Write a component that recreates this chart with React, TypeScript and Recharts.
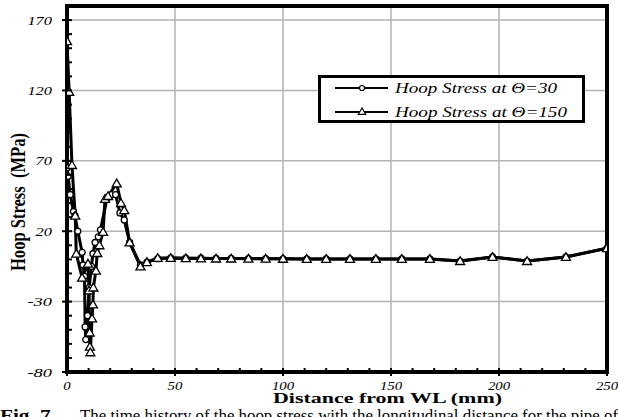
import React from 'react';
import { LineChart, Line, XAxis, YAxis, CartesianGrid, Legend, ReferenceArea } from 'recharts';

// ---- data ----
const distance30 = [0, 0.5, 1.5, 3, 3.7, 5, 7, 7.4, 8.1, 8.4, 8.7, 9.5, 10.3, 11.3, 12, 13, 14.5, 15.5, 18.5, 20.5, 22.5, 24.5, 26.5, 29, 34, 37, 42, 48, 55, 62, 69, 76, 84, 92, 100, 111, 120, 131, 143, 155, 168, 182, 197, 213, 231, 250];
const stress30 = [65, 59, 46, 34, 31, 20, 5, -4, -12, -48, -57, -40, -20, -5, 4, 12, 16, 21, 43, 46, 46, 33, 28, 12, -4, -2, 0.5, 1, 0.8, 0.8, 0.7, 0.7, 0.6, 0.5, 0.4, 0.3, 0.3, 0.3, 0.3, 0.3, 0.3, -1.2, 1.7, -1.2, 1.7, 8];

const distance150 = [0, 1, 2.3, 3.8, 4.3, 7, 9.7, 10.2, 10.5, 10.6, 10.8, 11.6, 12, 12.2, 13.4, 14, 15, 16.7, 17.6, 19, 23, 25, 26.5, 29, 34, 37, 42, 48, 55, 62, 69, 76, 84, 92, 100, 111, 120, 131, 143, 155, 168, 182, 197, 213, 231, 250];
const stress150 = [155, 119, 67, 31, 4, -13, -3, -22, -52, -62, -66, -42, -32, -20, -8, 4.5, 10, 19.5, 43, 45, 54, 40, 35, 12, -5, -2, 1, 1, 0.8, 0.7, 0.6, 0.6, 0.5, 0.5, 0.4, 0.3, 0.3, 0.3, 0.3, 0.3, 0.3, -1.2, 1.7, -1.2, 1.7, 8];

const seriesNames = ['Hoop Stress at \u0398=30', 'Hoop Stress at \u0398=150'];

const xMajorTicks = [0, 50, 100, 150, 200, 250];
const xMinorTicks = [0, 10, 20, 30, 40, 50, 60, 70, 80, 90, 100, 110, 120, 130, 140, 150, 160, 170, 180, 190, 200, 210, 220, 230, 240, 250];
const yMajorTicks = [-80, -30, 20, 70, 120, 170];
const yMinorTicks = [-80, -70, -60, -50, -40, -30, -20, -10, 0, 10, 20, 30, 40, 50, 60, 70, 80, 90, 100, 110, 120, 130, 140, 150, 160, 170];
const xGrid = [50, 100, 150, 200];
const yGrid = [-30, 20, 70, 120, 170];

const data30 = distance30.map((d, i) => ({ d, s: stress30[i] }));
const data150 = distance150.map((d, i) => ({ d, s: stress150[i] }));

const FONT = 'Liberation Serif, Times New Roman, serif';

const XTick = (props: any) => {
  const { x, y, payload } = props;
  const v = payload.value;
  const major = xMajorTicks.includes(v);
  const label = String(v);
  return (
    <g>
      <line x1={x} x2={x} y1={y - 4} y2={y + (major ? 4 : 0)} stroke="#000" strokeWidth={2} />
      {major && (
        <text x={x} y={y + 18} textAnchor="middle" fontFamily={FONT} fontStyle="italic" fontSize={11.5}
          textLength={label.length * 7.4} lengthAdjust="spacingAndGlyphs" fill="#000">{label}</text>
      )}
    </g>
  );
};

const YTick = (props: any) => {
  const { x, y, payload } = props;
  const v = payload.value;
  const major = yMajorTicks.includes(v);
  const label = String(v);
  return (
    <g>
      <line x1={x - (major ? 5 : 0)} x2={x + 5} y1={y} y2={y} stroke="#000" strokeWidth={2} />
      {major && (
        <text x={x - 15} y={y + 4.5} textAnchor="end" fontFamily={FONT} fontStyle="italic" fontSize={13}
          textLength={label.length * 8.2} lengthAdjust="spacingAndGlyphs" fill="#000">{label}</text>
      )}
    </g>
  );
};

const triPoints = (cx: number, cy: number, s: number) =>
  `${cx},${cy - s} ${cx - s * 1.05},${cy + s * 0.8} ${cx + s * 1.05},${cy + s * 0.8}`;

const CircleDot = (props: any) => {
  const { cx, cy } = props;
  if (cx == null || cy == null) return <g />;
  return <circle cx={cx} cy={cy} r={3} fill="#fff" stroke="#000" strokeWidth={1.3} />;
};

const TriDot = (props: any) => {
  const { cx, cy } = props;
  if (cx == null || cy == null) return <g />;
  return <polygon points={triPoints(cx, cy, 4.3)} fill="#fff" stroke="#000" strokeWidth={1.3} />;
};

const LegendBox = (props: any) => {
  const payload = [...(props.payload || [])].sort(
    (a: any, b: any) => seriesNames.indexOf(a.value) - seriesNames.indexOf(b.value)
  );
  const widths = [162, 172];
  return (
    <svg width={267} height={48} style={{ display: 'block' }}>
      <rect x={1.5} y={1.5} width={264} height={45} fill="#fff" stroke="#000" strokeWidth={3} />
      {payload.map((p: any, i: number) => {
        const cy = 13 + i * 24;
        const tri = p.type === 'triangle';
        return (
          <g key={i}>
            <line x1={17} x2={70} y1={cy} y2={cy} stroke="#000" strokeWidth={2} />
            {tri ? (
              <polygon points={triPoints(44, cy - 0.5, 3.5)} fill="#fff" stroke="#000" strokeWidth={1.2} />
            ) : (
              <circle cx={44} cy={cy} r={2.5} fill="#fff" stroke="#000" strokeWidth={1.2} />
            )}
            <text x={77} y={cy + 5} fontFamily={FONT} fontStyle="italic" fontSize={15}
              textLength={widths[i] || 165} lengthAdjust="spacingAndGlyphs" fill="#000">{p.value}</text>
          </g>
        );
      })}
    </svg>
  );
};

export default function App() {
  return (
    <div style={{ position: 'absolute', left: 0, top: 0, width: 618, height: 417, overflow: 'hidden', background: '#fff' }}>
      <LineChart width={618} height={417} margin={{ top: 6, right: 11, bottom: 0, left: 0 }}>
        <CartesianGrid horizontalValues={yGrid} verticalValues={xGrid} stroke="#b3b3b3" strokeWidth={1.5} />
        <XAxis dataKey="d" type="number" domain={[0, 250]} ticks={xMinorTicks} interval={0} tick={<XTick />}
          tickLine={false} axisLine={false} tickSize={0} tickMargin={0} height={45} allowDataOverflow />
        <YAxis type="number" domain={[-80, 180]} ticks={yMinorTicks} interval={0} tick={<YTick />}
          tickLine={false} axisLine={false} tickSize={0} tickMargin={0} width={67} allowDataOverflow />
        <ReferenceArea x1={0} x2={250} y1={-80} y2={180} fill="none" fillOpacity={0} stroke="#000" strokeWidth={4} ifOverflow="visible" />
        <Legend layout="vertical" align="center" verticalAlign="middle" content={<LegendBox />}
          wrapperStyle={{ left: 318, top: 75, width: 267, height: 48 }} />
        <Line data={data30} dataKey="s" name={seriesNames[0]} legendType="circle" stroke="#000" strokeWidth={3}
          dot={<CircleDot />} activeDot={false} isAnimationActive={false} type="linear" />
        <Line data={data150} dataKey="s" name={seriesNames[1]} legendType="triangle" stroke="#000" strokeWidth={3}
          dot={<TriDot />} activeDot={false} isAnimationActive={false} type="linear" />
      </LineChart>
      <svg width={618} height={417} style={{ position: 'absolute', left: 0, top: 0, pointerEvents: 'none' }}>
        <text transform="translate(18,202) rotate(-90) scale(1,1.3)" textAnchor="middle" dominantBaseline="central"
          fontFamily={FONT} fontWeight="bold" fontSize={16} textLength={138} lengthAdjust="spacingAndGlyphs"
          style={{ whiteSpace: 'pre' }} fill="#000">Hoop Stress  (MPa)</text>
        <text x={387.5} y={403} textAnchor="middle" fontFamily={FONT} fontWeight="bold" fontSize={14}
          textLength={229} lengthAdjust="spacingAndGlyphs" fill="#000">Distance from WL (mm)</text>
        <text x={0} y={421} fontFamily={FONT} fontWeight="bold" fontSize={16} textLength={56}
          lengthAdjust="spacingAndGlyphs" fill="#000">Fig. 7.</text>
        <text x={80} y={421} fontFamily={FONT} fontSize={16} textLength={538}
          lengthAdjust="spacingAndGlyphs" fill="#000">The time history of the hoop stress with the longitudinal distance for the pipe of</text>
      </svg>
    </div>
  );
}
